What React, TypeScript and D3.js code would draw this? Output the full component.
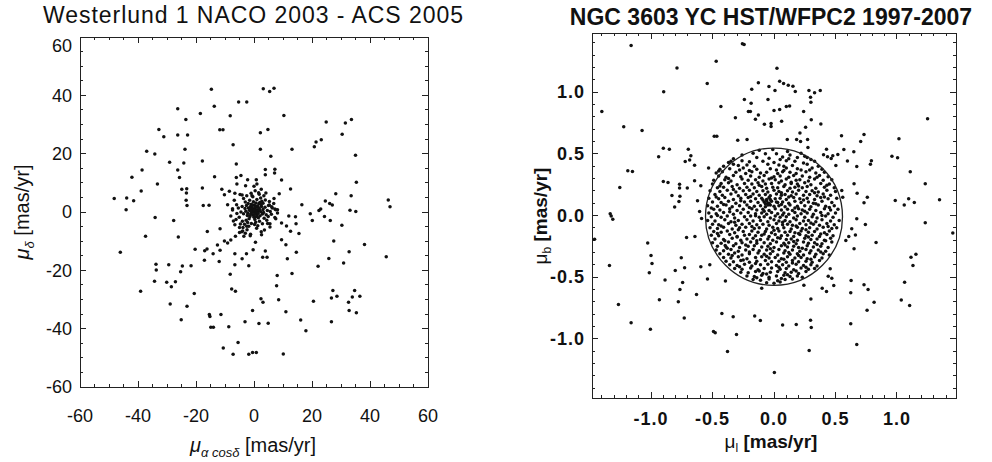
import React from 'react';
import * as d3 from 'd3';

// Westerlund 1 proper motions (mas/yr)
const wdTicks = [-60, -40, -20, 0, 20, 40, 60];

const wdOuter: [number, number][] = [
  [-14.7, 42.1], [3.2, 42.3], [5.4, 41.3], [6.9, 42.4], [-13.7, 36.3], [-5.3, 37.7], [-2.5, 37.7],
  [-26.3, 35.4], [-18.5, 33.8], [-8.2, 33.0], [10.3, 33.1], [-23.5, 31.7], [-32.8, 28.3], [-11.8, 28.2],
  [-10.7, 28.2], [-31.1, 25.8], [-26.3, 26.4], [-22.9, 26.4], [2.2, 27.2], [4.8, 28.3], [24.9, 30.9],
  [31.5, 30.5], [33.6, 31.7], [30.4, 26.7], [23.2, 24.8], [21.4, 24.0], [20.8, 22.4], [-7.2, 23.1],
  [-23.8, 21.5], [2.2, 21.5], [13.1, 21.5], [-37.0, 20.8], [-34.2, 19.9], [5.8, 19.1], [35.0, 19.5],
  [-29.1, 17.1], [-24.2, 16.8], [-17.8, 17.5], [-6.1, 16.5], [-38.6, 14.4], [-26.3, 14.4], [3.9, 14.6],
  [7.2, 14.7], [-42.1, 11.9], [-25.7, 11.8], [-13.6, 12.1], [-6.1, 11.8], [-4.5, 12.5], [3.9, 12.8],
  [7.1, 13.4], [9.5, 11.0], [35.3, 10.2], [-33.3, 9.6], [-5.9, 9.6], [-2.2, 11.1], [0.8, 11.1],
  [1.0, 9.6], [-2.9, 9.0], [0.0, 8.8], [-17.8, 8.2], [-24.9, 7.8], [-23.2, 8.0], [-11.1, 7.8],
  [-10.2, 5.9], [-8.5, 7.1], [2.5, 7.8], [1.6, 6.6], [12.6, 7.9], [-38.9, 7.2], [-23.3, 6.5],
  [8.7, 6.3], [28.2, 6.3], [33.5, 5.6], [-6.6, 6.4], [-4.1, 5.8], [-0.7, 5.6], [-48.2, 4.6],
  [-43.9, 4.8], [-41.5, 3.9], [-23.4, 4.0], [-23.1, 2.2], [-17.5, 2.2], [-15.5, 2.3], [-9.1, 2.5],
  [-7.4, 1.1], [5.3, 2.4], [6.1, 1.8], [7.2, 1.0], [8.1, 0.8], [16.5, 2.5], [24.6, 3.8], [26.1, 2.9],
  [27.0, 2.4], [46.3, 4.1], [46.9, 1.8], [-44.1, 0.8], [23.0, 1.0], [22.4, 0.5], [33.1, 0.6], [35.1, 0.2],
  [-34.1, -1.9], [-27.7, -2.9], [-37.4, -8.3], [-26.1, -8.6], [-46.1, -13.8], [-16.1, -6.7], [-11.7, -5.7],
  [-20.3, -12.8], [-17.0, -13.3], [-16.2, -12.7], [-14.1, -14.3], [-12.6, -11.3], [-11.7, -13.1],
  [-10.2, -9.9], [-9.1, -10.6], [-8.0, -9.6], [-6.4, -8.3], [-3.5, -8.3], [-1.3, -8.1], [-5.0, -7.0],
  [-3.9, -6.5], [-2.5, -4.9], [0.5, -10.4], [2.6, -7.8], [-0.3, -12.9], [-6.6, -14.3], [-2.6, -14.3],
  [-4.1, -16.0], [-17.1, -16.5], [-12.0, -17.0], [-6.6, -18.1], [-1.8, -18.4], [3.0, -15.5], [4.5, -15.5],
  [3.9, -13.4], [9.5, -9.5], [11.0, -11.2], [11.5, -16.0], [14.6, -13.8], [12.6, -6.6], [15.5, -7.4],
  [9.5, -3.8], [11.2, -4.8], [14.5, -4.0], [12.0, -1.4], [14.3, -1.6], [7.5, -2.3], [5.5, -4.0],
  [19.4, -0.6], [20.1, -2.9], [24.3, -1.5], [26.3, -2.9], [30.3, -4.5], [27.5, -9.9], [38.1, -11.1],
  [32.8, -13.6], [25.8, -15.9], [30.9, -17.5], [22.1, -18.6], [45.6, -15.3], [-33.8, -17.9], [-29.4, -18.1],
  [-24.7, -18.5], [-21.7, -18.4], [-25.3, -20.5], [-33.7, -19.9], [-34.3, -23.7], [-30.1, -24.1],
  [-28.5, -25.6], [-27.1, -23.9], [-39.1, -27.2], [-28.9, -31.5], [-23.1, -32.3], [-20.6, -27.9],
  [-25.1, -36.9], [-8.2, -21.3], [-7.7, -26.4], [-6.4, -27.2], [8.0, -21.8], [7.8, -25.3], [13.1, -21.1],
  [2.4, -29.7], [3.1, -30.9], [8.5, -30.1], [-0.5, -33.8], [11.0, -34.2], [-15.4, -35.1], [-15.2, -35.8],
  [-11.4, -35.1], [-14.9, -39.5], [-14.0, -39.5], [-8.7, -39.3], [-3.1, -37.6], [1.7, -38.2], [4.9, -38.1],
  [16.1, -37.0], [17.9, -40.7], [20.5, -30.6], [26.7, -37.6], [27.2, -26.9], [26.7, -29.5], [28.6, -28.9],
  [32.6, -30.9], [32.8, -33.8], [35.3, -34.5], [33.9, -29.1], [36.5, -28.9], [34.7, -26.9], [-10.6, -46.6],
  [-7.2, -48.8], [-5.5, -44.7], [-1.8, -48.8], [-0.5, -48.2], [0.8, -48.2], [10.1, -48.7],
];

// the dense cluster core near the origin
const wdCore: [number, number][] = [
  [0.2, 1.1], [-0.5, 0.8], [0.9, 1.6], [1.4, 0.4], [-1.2, 1.9], [0.6, -0.3], [-0.8, -0.2], [1.8, 1.2],
  [-1.6, 0.6], [0.1, 2.4], [2.3, 0.1], [-0.3, -1.1], [1.1, -1.0], [-2.1, -0.4], [0.4, 0.2], [-0.9, 2.7],
  [2.6, 1.9], [1.7, 2.8], [-1.9, 1.4], [0.0, -1.8], [2.9, -0.7], [-2.6, 2.2], [0.7, 3.1], [-0.2, 3.5],
  [1.5, -2.0], [-1.4, -1.5], [3.1, 0.9], [-2.8, 0.3], [0.9, 0.6], [-0.6, 1.5], [1.2, 2.1], [-1.1, -0.8],
  [2.1, -1.3], [0.3, -2.6], [-1.7, -2.3], [-0.4, 0.1], [0.5, 1.9], [1.9, 0.6], [-1.3, 1.1], [0.8, -1.5],
  [2.4, 2.6], [-2.3, -1.2], [3.3, -0.2], [-3.1, 1.2], [0.1, 0.7], [1.6, 1.5], [3.8, 1.6], [4.2, -0.9],
  [-3.6, -0.6], [-4.1, 1.9], [1.0, 4.3], [-1.5, 4.0], [2.7, 3.7], [-3.0, 3.4], [3.5, -2.1], [-2.7, -2.8],
  [0.6, -3.5], [-0.9, -3.9], [1.9, -3.2], [4.6, 0.5], [-4.5, 0.0], [3.1, 3.0], [-2.2, -3.6], [5.0, 2.2],
  [-5.1, -1.8], [4.4, -2.8], [-4.0, -3.2], [2.3, 4.8], [-0.4, 5.2], [5.6, 0.2], [-5.4, 1.4], [3.9, 4.1],
  [-3.6, 4.6], [1.3, -4.7], [-1.8, -4.9], [4.9, -1.5], [-3.3, -4.2], [0.2, -4.3], [2.9, -4.0], [-2.5, 5.6],
  [5.3, 3.6], [-5.9, -0.5], [6.0, -0.8], [-4.7, -4.1], [-6.2, -2.6], [6.3, 1.4], [3.4, 5.6], [-6.0, 2.5],
  [1.8, 6.1], [-1.0, 6.4], [4.7, -3.9], [-3.8, -5.3], [0.9, -5.6], [-2.4, -6.1], [-5.0, -5.3], [-6.6, -4.4],
  [-4.2, -6.8], [-7.1, -3.1], [-3.0, -7.3], [7.2, -1.9], [6.8, 2.9], [-7.4, 0.7], [5.5, -5.1], [2.5, -6.8],
  [-1.2, -7.6], [7.5, 0.8], [4.1, 6.5], [-4.8, 6.0], [6.9, 4.6], [0.4, 7.3], [-6.8, 4.0], [3.6, -6.2],
  [-8.0, -1.4], [8.1, -0.3], [-0.6, 2.2], [1.4, -0.4], [-1.0, 0.3], [2.0, 3.3], [-2.0, 2.9], [0.2, -0.7],
];

// NGC 3603 YC proper motions (mas/yr), right panel
const ngcTicks = [-1.0, -0.5, 0.0, 0.5, 1.0];
const ngcTickLabels = ['-1.0', '-0.5', '0.0', '0.5', '1.0'];
const ngcCircle = { x: 0.0, y: -0.01, r: 0.557 };

const ngcOuter: [number, number][] = [
  [-1.162, 1.378], [-0.257, 1.392], [-0.243, 1.386], [-0.47, 1.251], [-0.789, 1.197], [0.024, 1.195],
  [-0.543, 1.07], [-0.127, 1.076], [0.046, 1.089], [0.078, 1.07], [0.116, 1.057], [0.154, 1.049],
  [0.173, 1.005], [-0.041, 1.046], [0.008, 1.014], [-0.181, 1.024], [-0.897, 1.003], [0.284, 1.014],
  [0.33, 0.995], [0.376, 1.014], [0.297, 0.959], [0.3, 0.919], [-0.241, 0.941], [-0.186, 0.911],
  [-0.049, 0.941], [-0.432, 0.884], [-0.208, 0.843], [-0.192, 0.843], [0.0, 0.851], [0.046, 0.859],
  [0.1, 0.884], [0.127, 0.889], [0.241, 0.843], [-0.127, 0.816], [-0.314, 0.792], [-0.151, 0.781],
  [0.062, 0.765], [-0.078, 0.741], [-0.024, 0.746], [-0.024, 0.722], [0.303, 0.776], [0.381, 0.743],
  [0.257, 0.716], [-1.4, 0.843], [-1.222, 0.719], [-1.073, 0.689], [1.249, 0.784], [-0.486, 0.643],
  [-0.465, 0.643], [-0.295, 0.611], [-0.219, 0.616], [0.211, 0.67], [0.184, 0.616], [0.216, 0.6],
  [0.273, 0.616], [0.108, 0.616], [0.549, 0.646], [0.732, 0.657], [0.705, 0.6], [1.016, 0.622],
  [-0.9, 0.546], [-0.851, 0.538], [-0.697, 0.538], [-0.938, 0.476], [-0.676, 0.484], [-0.686, 0.451],
  [-0.722, 0.438], [-0.646, 0.408], [0.276, 0.551], [0.427, 0.538], [0.568, 0.535], [0.649, 0.516],
  [0.478, 0.484], [0.465, 0.462], [0.435, 0.476], [0.403, 0.492], [0.519, 0.495], [0.597, 0.441],
  [0.503, 0.405], [0.673, 0.397], [0.792, 0.443], [0.784, 0.416], [0.959, 0.481], [1.005, 0.468],
  [-1.189, 0.362], [-1.151, 0.357], [1.108, 0.354], [-0.9, 0.276], [-0.862, 0.268], [-0.768, 0.254],
  [-0.705, 0.224], [-0.768, 0.224], [-0.646, 0.281], [-0.83, 0.162], [-0.765, 0.157], [-0.773, 0.114],
  [-0.808, 0.068], [-0.622, 0.119], [-0.605, 0.032], [-1.254, 0.227], [-1.332, 0.014], [0.651, 0.257],
  [0.676, 0.181], [0.732, 0.103], [0.759, 0.149], [0.551, 0.203], [0.559, 0.149], [0.986, 0.122],
  [1.059, 0.086], [1.095, 0.135], [1.141, 0.105], [1.23, 0.257], [1.346, 0.127], [-0.532, 0.386],
  [-0.595, 0.241], [-1.324, -0.005], [-1.311, -0.03], [-1.459, -0.192], [-1.338, -0.405], [-1.265, -0.722],
  [-1.162, -0.87], [-1.027, -0.222], [-1.0, -0.324], [-0.992, -0.389], [-1.014, -0.465], [-1.005, -0.922],
  [-0.932, -0.684], [-0.886, -0.524], [-0.803, -0.446], [-0.778, -0.7], [-0.765, -0.6], [-0.743, -0.543],
  [-0.754, -0.343], [-0.727, -0.424], [-0.73, -0.832], [-0.711, -0.178], [-0.643, -0.17], [-0.63, -0.641],
  [-0.595, -0.416], [-0.522, -0.4], [-0.541, -0.514], [-0.589, -0.024], [-0.395, -0.532], [-0.424, -0.795],
  [-0.492, -0.941], [-0.478, -0.951], [-0.378, -1.103], [-0.332, -0.822], [-0.305, -0.965], [-0.157, -0.814],
  [-0.111, -0.851], [-0.1, -0.589], [0.003, -1.273], [0.07, -0.889], [0.181, -0.884], [0.243, -0.565],
  [0.3, -0.678], [0.297, -0.849], [0.303, -0.908], [0.286, -1.095], [0.392, -0.589], [0.427, -0.616],
  [0.486, -0.568], [0.441, -0.492], [0.47, -0.508], [0.457, -0.432], [0.624, -0.627], [0.627, -0.527],
  [0.624, -0.878], [0.673, -1.046], [0.651, -0.27], [0.584, -0.203], [0.608, -0.17], [0.662, -0.159],
  [0.632, -0.108], [0.673, -0.027], [0.743, -0.073], [0.732, -0.562], [0.765, -0.6], [0.814, -0.703],
  [0.757, -0.768], [0.83, -0.219], [1.035, -0.686], [1.062, -0.541], [1.103, -0.73], [1.114, -0.338],
  [1.154, -0.314], [1.13, -0.405], [1.23, -0.059], [1.454, -0.141], [-0.397, -0.243],
];

// the crowded disc inside the circle
const ngcInner: [number, number][] = [
  [-0.12, 0.53], [-0.01, 0.535], [0.11, 0.52],
  [-0.26, 0.49], [-0.17, 0.505], [0.02, 0.5], [0.13, 0.49], [0.22, 0.505], [0.25, 0.48],
  [-0.33, 0.46], [-0.14, 0.47], [-0.04, 0.465], [0.07, 0.475], [0.12, 0.46], [0.19, 0.47], [0.3, 0.455],
  [-0.37, 0.43], [-0.26, 0.445], [-0.2, 0.435], [-0.09, 0.44], [0.0, 0.43], [0.1, 0.445], [0.17, 0.44],
  [0.24, 0.425], [0.33, 0.44],
  [-0.41, 0.4], [-0.33, 0.415], [-0.29, 0.405], [-0.22, 0.41], [-0.16, 0.4], [-0.05, 0.415], [0.04, 0.41],
  [0.08, 0.4], [0.15, 0.405], [0.27, 0.415], [0.36, 0.4],
  [-0.44, 0.375], [-0.36, 0.38], [-0.28, 0.37], [-0.25, 0.385], [-0.14, 0.375], [-0.03, 0.38], [0.02, 0.37],
  [0.1, 0.385], [0.19, 0.38], [0.22, 0.37], [0.31, 0.385], [0.39, 0.375],
  [-0.47, 0.345], [-0.42, 0.355], [-0.31, 0.35], [-0.23, 0.34], [-0.18, 0.355], [-0.11, 0.345], [-0.06, 0.35],
  [0.03, 0.34], [0.07, 0.355], [0.13, 0.35], [0.18, 0.34], [0.26, 0.355], [0.34, 0.345], [0.41, 0.35],
  [-0.45, 0.32], [-0.39, 0.31], [-0.33, 0.325], [-0.27, 0.315], [-0.19, 0.32], [-0.12, 0.31], [-0.08, 0.325],
  [0.0, 0.315], [0.05, 0.32], [0.12, 0.31], [0.16, 0.325], [0.23, 0.32], [0.29, 0.31], [0.37, 0.325], [0.44, 0.315],
  [-0.49, 0.285], [-0.4, 0.29], [-0.35, 0.28], [-0.26, 0.295], [-0.21, 0.285], [-0.15, 0.29], [-0.09, 0.28],
  [-0.04, 0.295], [0.01, 0.29], [0.06, 0.28], [0.1, 0.295], [0.18, 0.285], [0.21, 0.29], [0.28, 0.28],
  [0.33, 0.295], [0.4, 0.285], [0.47, 0.29],
  [-0.5, 0.255], [-0.43, 0.26], [-0.37, 0.265], [-0.3, 0.25], [-0.24, 0.26], [-0.18, 0.255], [-0.13, 0.265],
  [-0.07, 0.255], [-0.02, 0.26], [0.04, 0.265], [0.09, 0.25], [0.14, 0.26], [0.19, 0.255], [0.25, 0.265],
  [0.3, 0.25], [0.38, 0.26], [0.45, 0.255],
  [-0.46, 0.225], [-0.41, 0.23], [-0.34, 0.235], [-0.28, 0.22], [-0.22, 0.23], [-0.16, 0.225], [-0.1, 0.235],
  [-0.06, 0.22], [-0.01, 0.23], [0.03, 0.225], [0.08, 0.235], [0.13, 0.22], [0.17, 0.23], [0.23, 0.225],
  [0.27, 0.235], [0.34, 0.22], [0.41, 0.23], [0.49, 0.225],
  [-0.52, 0.2], [-0.44, 0.195], [-0.38, 0.205], [-0.31, 0.19], [-0.25, 0.2], [-0.2, 0.205], [-0.14, 0.195],
  [-0.09, 0.2], [-0.05, 0.19], [0.0, 0.205], [0.04, 0.195], [0.11, 0.2], [0.15, 0.19], [0.2, 0.205],
  [0.26, 0.195], [0.31, 0.2], [0.36, 0.19], [0.43, 0.205], [0.5, 0.195],
  [-0.48, 0.17], [-0.42, 0.165], [-0.35, 0.175], [-0.29, 0.16], [-0.23, 0.17], [-0.17, 0.175], [-0.12, 0.165],
  [-0.07, 0.17], [-0.03, 0.16], [0.02, 0.175], [0.06, 0.165], [0.09, 0.17], [0.14, 0.16], [0.18, 0.175],
  [0.24, 0.165], [0.29, 0.17], [0.35, 0.16], [0.4, 0.175], [0.46, 0.165],
  [-0.53, 0.14], [-0.45, 0.135], [-0.4, 0.145], [-0.33, 0.13], [-0.27, 0.14], [-0.21, 0.145], [-0.15, 0.135],
  [-0.1, 0.14], [-0.06, 0.13], [-0.04, 0.145], [0.01, 0.135], [0.05, 0.14], [0.1, 0.13], [0.16, 0.145],
  [0.21, 0.135], [0.27, 0.14], [0.33, 0.13], [0.38, 0.145], [0.44, 0.135], [0.51, 0.14],
  [-0.5, 0.11], [-0.43, 0.105], [-0.37, 0.115], [-0.31, 0.1], [-0.24, 0.11], [-0.19, 0.115], [-0.13, 0.105],
  [-0.08, 0.11], [-0.05, 0.1], [-0.02, 0.115], [0.03, 0.105], [0.07, 0.11], [0.12, 0.1], [0.17, 0.115],
  [0.22, 0.105], [0.28, 0.11], [0.32, 0.1], [0.39, 0.115], [0.47, 0.105],
  [-0.54, 0.08], [-0.46, 0.075], [-0.39, 0.085], [-0.34, 0.07], [-0.28, 0.08], [-0.22, 0.085], [-0.16, 0.075],
  [-0.11, 0.08], [-0.07, 0.07], [-0.03, 0.085], [0.0, 0.075], [0.04, 0.08], [0.09, 0.07], [0.13, 0.085],
  [0.19, 0.075], [0.25, 0.08], [0.3, 0.07], [0.36, 0.085], [0.42, 0.075], [0.49, 0.08],
  [-0.49, 0.05], [-0.44, 0.045], [-0.36, 0.055], [-0.3, 0.04], [-0.25, 0.05], [-0.18, 0.055], [-0.14, 0.045],
  [-0.09, 0.05], [-0.04, 0.04], [0.01, 0.055], [0.06, 0.045], [0.11, 0.05], [0.15, 0.04], [0.2, 0.055],
  [0.23, 0.045], [0.29, 0.05], [0.34, 0.04], [0.41, 0.055], [0.46, 0.045], [0.52, 0.05],
  [-0.53, 0.02], [-0.47, 0.015], [-0.41, 0.025], [-0.33, 0.01], [-0.27, 0.02], [-0.21, 0.025], [-0.15, 0.015],
  [-0.1, 0.02], [-0.06, 0.01], [-0.02, 0.025], [0.03, 0.015], [0.08, 0.02], [0.12, 0.01], [0.17, 0.025],
  [0.22, 0.015], [0.27, 0.02], [0.32, 0.01], [0.38, 0.025], [0.44, 0.015], [0.5, 0.02],
  [-0.51, -0.01], [-0.43, -0.015], [-0.38, -0.005], [-0.32, -0.02], [-0.24, -0.01], [-0.19, -0.005],
  [-0.12, -0.015], [-0.08, -0.01], [-0.03, -0.02], [0.01, -0.005], [0.05, -0.015], [0.1, -0.01],
  [0.16, -0.02], [0.19, -0.005], [0.25, -0.015], [0.31, -0.01], [0.35, -0.02], [0.42, -0.005], [0.48, -0.015],
  [-0.54, -0.04], [-0.48, -0.045], [-0.4, -0.035], [-0.35, -0.05], [-0.29, -0.04], [-0.22, -0.035],
  [-0.17, -0.045], [-0.11, -0.04], [-0.05, -0.05], [0.0, -0.035], [0.04, -0.045], [0.09, -0.04],
  [0.13, -0.05], [0.18, -0.035], [0.24, -0.045], [0.28, -0.04], [0.34, -0.05], [0.39, -0.035],
  [0.46, -0.045], [0.53, -0.04],
  [-0.5, -0.07], [-0.45, -0.075], [-0.37, -0.065], [-0.31, -0.08], [-0.26, -0.07], [-0.2, -0.065],
  [-0.14, -0.075], [-0.09, -0.07], [-0.04, -0.08], [0.02, -0.065], [0.07, -0.075], [0.11, -0.07],
  [0.15, -0.08], [0.21, -0.065], [0.26, -0.075], [0.32, -0.07], [0.37, -0.08], [0.43, -0.065], [0.49, -0.075],
  [-0.52, -0.1], [-0.46, -0.105], [-0.41, -0.095], [-0.34, -0.11], [-0.28, -0.1], [-0.23, -0.095],
  [-0.16, -0.105], [-0.12, -0.1], [-0.06, -0.11], [-0.01, -0.095], [0.03, -0.105], [0.08, -0.1],
  [0.14, -0.11], [0.19, -0.095], [0.23, -0.105], [0.29, -0.1], [0.35, -0.11], [0.4, -0.095],
  [0.47, -0.105], [0.51, -0.1],
  [-0.49, -0.13], [-0.43, -0.135], [-0.38, -0.125], [-0.32, -0.14], [-0.25, -0.13], [-0.18, -0.125],
  [-0.13, -0.135], [-0.07, -0.13], [-0.02, -0.14], [0.04, -0.125], [0.09, -0.135], [0.13, -0.13],
  [0.17, -0.14], [0.22, -0.125], [0.28, -0.135], [0.33, -0.13], [0.41, -0.14], [0.45, -0.125],
  [-0.51, -0.16], [-0.45, -0.165], [-0.36, -0.155], [-0.3, -0.17], [-0.24, -0.16], [-0.2, -0.155],
  [-0.15, -0.165], [-0.1, -0.16], [-0.04, -0.17], [0.01, -0.155], [0.06, -0.165], [0.11, -0.16],
  [0.16, -0.17], [0.21, -0.155], [0.26, -0.165], [0.31, -0.16], [0.37, -0.17], [0.43, -0.155], [0.48, -0.165],
  [-0.48, -0.19], [-0.41, -0.195], [-0.34, -0.185], [-0.27, -0.2], [-0.22, -0.19], [-0.17, -0.185],
  [-0.11, -0.195], [-0.05, -0.19], [-0.01, -0.2], [0.05, -0.185], [0.1, -0.195], [0.14, -0.19],
  [0.19, -0.2], [0.25, -0.185], [0.3, -0.195], [0.35, -0.19], [0.41, -0.2], [0.46, -0.185],
  [-0.5, -0.22], [-0.43, -0.225], [-0.37, -0.215], [-0.31, -0.23], [-0.26, -0.22], [-0.19, -0.215],
  [-0.14, -0.225], [-0.08, -0.22], [-0.03, -0.23], [0.02, -0.215], [0.08, -0.225], [0.12, -0.22],
  [0.18, -0.23], [0.24, -0.215], [0.28, -0.225], [0.33, -0.22], [0.39, -0.23], [0.47, -0.215],
  [-0.46, -0.25], [-0.39, -0.255], [-0.33, -0.245], [-0.28, -0.26], [-0.21, -0.25], [-0.16, -0.245],
  [-0.1, -0.255], [-0.05, -0.25], [0.0, -0.26], [0.06, -0.245], [0.11, -0.255], [0.16, -0.25],
  [0.2, -0.26], [0.27, -0.245], [0.32, -0.255], [0.38, -0.25], [0.44, -0.26],
  [-0.47, -0.28], [-0.41, -0.285], [-0.35, -0.275], [-0.29, -0.29], [-0.23, -0.28], [-0.17, -0.275],
  [-0.12, -0.285], [-0.06, -0.28], [-0.01, -0.29], [0.04, -0.275], [0.09, -0.285], [0.15, -0.28],
  [0.21, -0.29], [0.26, -0.275], [0.3, -0.285], [0.36, -0.28], [0.42, -0.29],
  [-0.44, -0.31], [-0.37, -0.315], [-0.32, -0.305], [-0.26, -0.32], [-0.2, -0.31], [-0.13, -0.305],
  [-0.08, -0.315], [-0.03, -0.31], [0.03, -0.32], [0.08, -0.305], [0.13, -0.315], [0.19, -0.31],
  [0.24, -0.32], [0.29, -0.305], [0.34, -0.315], [0.4, -0.31], [0.45, -0.32],
  [-0.41, -0.34], [-0.35, -0.345], [-0.29, -0.335], [-0.22, -0.35], [-0.15, -0.34], [-0.1, -0.335],
  [-0.04, -0.345], [0.01, -0.34], [0.06, -0.35], [0.11, -0.335], [0.17, -0.345], [0.22, -0.34],
  [0.27, -0.35], [0.33, -0.335], [0.39, -0.345],
  [-0.39, -0.37], [-0.33, -0.375], [-0.27, -0.365], [-0.2, -0.38], [-0.14, -0.37], [-0.07, -0.365],
  [-0.02, -0.375], [0.04, -0.37], [0.1, -0.38], [0.15, -0.365], [0.2, -0.375], [0.26, -0.37],
  [0.31, -0.38], [0.37, -0.365],
  [-0.36, -0.4], [-0.3, -0.405], [-0.24, -0.395], [-0.18, -0.41], [-0.11, -0.4], [-0.05, -0.395],
  [0.02, -0.405], [0.07, -0.4], [0.12, -0.41], [0.18, -0.395], [0.24, -0.405], [0.3, -0.4], [0.35, -0.41],
  [-0.32, -0.43], [-0.26, -0.435], [-0.19, -0.425], [-0.13, -0.44], [-0.08, -0.43], [-0.02, -0.425],
  [0.05, -0.435], [0.1, -0.43], [0.16, -0.44], [0.22, -0.425], [0.28, -0.435], [0.33, -0.43],
  [-0.27, -0.46], [-0.21, -0.465], [-0.15, -0.455], [-0.09, -0.47], [-0.03, -0.46], [0.03, -0.455],
  [0.09, -0.465], [0.14, -0.46], [0.2, -0.47], [0.26, -0.455],
  [-0.22, -0.49], [-0.16, -0.495], [-0.1, -0.485], [-0.04, -0.5], [0.02, -0.49], [0.08, -0.485],
  [0.13, -0.495], [0.19, -0.49], [0.23, -0.5],
  [-0.17, -0.52], [-0.11, -0.525], [-0.04, -0.515], [0.03, -0.53], [0.09, -0.52], [0.15, -0.515],
  [-0.06, -0.545], [0.0, -0.55], [0.05, -0.54],
  [-0.06, 0.12], [-0.04, 0.1], [-0.07, 0.095], [-0.03, 0.13], [-0.05, 0.085], [0.02, 0.11],
  // stars lying between the rows above
  [-0.35, 0.44], [-0.07, 0.5], [0.05, 0.455], [0.27, 0.47], [-0.45, 0.36], [-0.2, 0.365], [0.08, 0.365],
  [0.29, 0.37], [-0.37, 0.3], [-0.02, 0.305], [0.14, 0.27], [0.35, 0.31], [-0.44, 0.24], [-0.12, 0.245],
  [0.2, 0.24], [0.43, 0.245], [-0.33, 0.21], [0.06, 0.185], [0.33, 0.185], [-0.47, 0.15], [-0.19, 0.155],
  [0.12, 0.15], [0.41, 0.15], [-0.27, 0.12], [-0.09, 0.125], [0.24, 0.125], [-0.41, 0.09], [0.06, 0.09],
  [0.34, 0.095], [-0.51, 0.06], [-0.2, 0.065], [0.17, 0.06], [0.45, 0.065], [-0.36, 0.03], [-0.08, 0.035],
  [0.25, 0.035], [-0.46, 0.0], [-0.15, -0.002], [0.07, 0.005], [0.39, 0.0], [-0.32, -0.055], [0.07, -0.055],
  [0.3, -0.06], [-0.43, -0.085], [-0.18, -0.09], [0.18, -0.085], [0.44, -0.09], [-0.29, -0.115],
  [0.0, -0.12], [0.26, -0.115], [-0.46, -0.145], [-0.08, -0.15], [0.2, -0.145], [0.38, -0.15],
  [-0.3, -0.175], [0.03, -0.18], [0.28, -0.175], [-0.4, -0.205], [-0.14, -0.205], [0.16, -0.21],
  [0.42, -0.205], [-0.23, -0.24], [0.09, -0.24], [0.35, -0.235], [-0.38, -0.265], [-0.03, -0.27],
  [0.23, -0.265], [-0.2, -0.295], [0.12, -0.3], [0.38, -0.295], [-0.34, -0.325], [-0.06, -0.33],
  [0.2, -0.325], [-0.25, -0.36], [0.08, -0.355], [0.3, -0.355], [-0.15, -0.39], [0.15, -0.385],
  [-0.28, -0.415], [0.04, -0.42], [0.26, -0.42], [-0.12, -0.45], [0.18, -0.45], [-0.06, -0.475],
  [0.11, -0.48], [-0.14, -0.505], [0.06, -0.51],
];

const FONT = '"Liberation Sans", Arial, Helvetica, sans-serif';
const INK = '#111';

type Scale = d3.ScaleLinear<number, number>;

const Frame = ({ x, y, majors, minors, majorLen, minorLen }: {
  x: Scale; y: Scale; majors: number[]; minors: number[]; majorLen: number; minorLen: number;
}) => {
  const [x0, x1] = x.range();
  const [yb, yt] = y.range();
  const isMajor = (v: number) => majors.some((m) => Math.abs(m - v) < 1e-6);
  return (
    <g stroke="#222" strokeWidth={1} fill="none" shapeRendering="crispEdges">
      <rect x={x0} y={yt} width={x1 - x0} height={yb - yt} />
      {minors.map((v) => {
        const len = isMajor(v) ? majorLen : minorLen;
        const px = x(v);
        const py = y(v);
        return (
          <g key={v}>
            <line x1={px} x2={px} y1={yb} y2={yb - len} />
            <line x1={px} x2={px} y1={yt} y2={yt + len} />
            <line x1={x0} x2={x0 + len} y1={py} y2={py} />
            <line x1={x1} x2={x1 - len} y1={py} y2={py} />
          </g>
        );
      })}
    </g>
  );
};

const Dots = ({ data, x, y }: { data: [number, number][]; x: Scale; y: Scale }) => (
  <g fill={INK}>
    {data.map(([a, b], i) => (
      <circle key={i} cx={x(a)} cy={y(b)} r={1.75} />
    ))}
  </g>
);

export default function App() {
  // left panel scales
  const wx = d3.scaleLinear().domain([-60, 60]).range([80, 428]);
  const wy = d3.scaleLinear().domain([-60, 60]).range([387, 37]);
  const wMinor = d3.range(-60, 60.01, 5);

  // right panel scales
  const nx = d3.scaleLinear().domain([-1.48, 1.48]).range([592, 956]);
  const ny = d3.scaleLinear().domain([-1.48, 1.48]).range([398, 33]);
  const nMinor = d3.range(-14, 15, 1).map((v) => v / 10);

  return (
    <svg width={992} height={462} style={{ position: 'absolute', left: 0, top: 0, background: '#fff' }}
      fontFamily={FONT}>
      <rect width={992} height={462} fill="#fff" />

      {/* left: Westerlund 1 */}
      <text x={253} y={23} fontSize={23} textAnchor="middle" fill={INK} textLength={420}
        lengthAdjust="spacing">Westerlund 1 NACO 2003 - ACS 2005</text>
      <Frame x={wx} y={wy} majors={wdTicks} minors={wMinor} majorLen={6} minorLen={3} />
      <Dots data={wdOuter} x={wx} y={wy} />
      <Dots data={wdCore} x={wx} y={wy} />
      <g fontSize={18} fill={INK}>
        {wdTicks.map((v) => (
          <text key={`wx${v}`} x={wx(v)} y={422} textAnchor="middle">{v}</text>
        ))}
        {wdTicks.map((v) => (
          <text key={`wy${v}`} x={72} y={Math.max(wy(v), wy.range()[1] + 9)} dy="0.35em"
            textAnchor="end">{v}</text>
        ))}
      </g>
      <text x={253} y={452} fontSize={20} textAnchor="middle" fill={INK}>
        <tspan fontStyle="italic">μ</tspan>
        <tspan fontSize={13} dy={5} fontStyle="italic">α cosδ</tspan>
        <tspan dy={-5}> [mas/yr]</tspan>
      </text>
      <text transform="translate(29,212) rotate(-90)" fontSize={20} textAnchor="middle" fill={INK}>
        <tspan fontStyle="italic">μ</tspan>
        <tspan fontSize={13} dy={5} fontStyle="italic">δ</tspan>
        <tspan dy={-5}> [mas/yr]</tspan>
      </text>

      {/* right: NGC 3603 YC */}
      <text x={771} y={25} fontSize={23} fontWeight="bold" textAnchor="middle" fill={INK}>
        NGC 3603 YC HST/WFPC2 1997-2007
      </text>
      <Frame x={nx} y={ny} majors={ngcTicks} minors={nMinor} majorLen={6} minorLen={3} />
      <Dots data={ngcOuter} x={nx} y={ny} />
      <Dots data={ngcInner} x={nx} y={ny} />
      <ellipse cx={nx(ngcCircle.x)} cy={ny(ngcCircle.y)} rx={nx(ngcCircle.r) - nx(0)}
        ry={ny(0) - ny(ngcCircle.r)} fill="none" stroke="#222" strokeWidth={1.3} />
      <g fontSize={18} fontWeight="bold" fill={INK} letterSpacing={1}>
        {ngcTicks.map((v, i) => (
          <text key={`nx${v}`} x={nx(v)} y={425} textAnchor="middle">{ngcTickLabels[i]}</text>
        ))}
        {ngcTicks.map((v, i) => (
          <text key={`ny${v}`} x={585} y={ny(v)} dy="0.35em" textAnchor="end">{ngcTickLabels[i]}</text>
        ))}
      </g>
      <text x={771} y={448} fontSize={19} fontWeight="bold" textAnchor="middle" fill={INK}>
        <tspan fontWeight="normal">μ</tspan>
        <tspan fontSize={12} dy={4} fontWeight="normal">l</tspan>
        <tspan dy={-4}> [mas/yr]</tspan>
      </text>
      <text transform="translate(547,216) rotate(-90)" fontSize={19} fontWeight="bold" textAnchor="middle"
        fill={INK}>
        <tspan fontWeight="normal">μ</tspan>
        <tspan fontSize={12} dy={4} fontWeight="normal">b</tspan>
        <tspan dy={-4}> [mas/yr]</tspan>
      </text>
    </svg>
  );
}
